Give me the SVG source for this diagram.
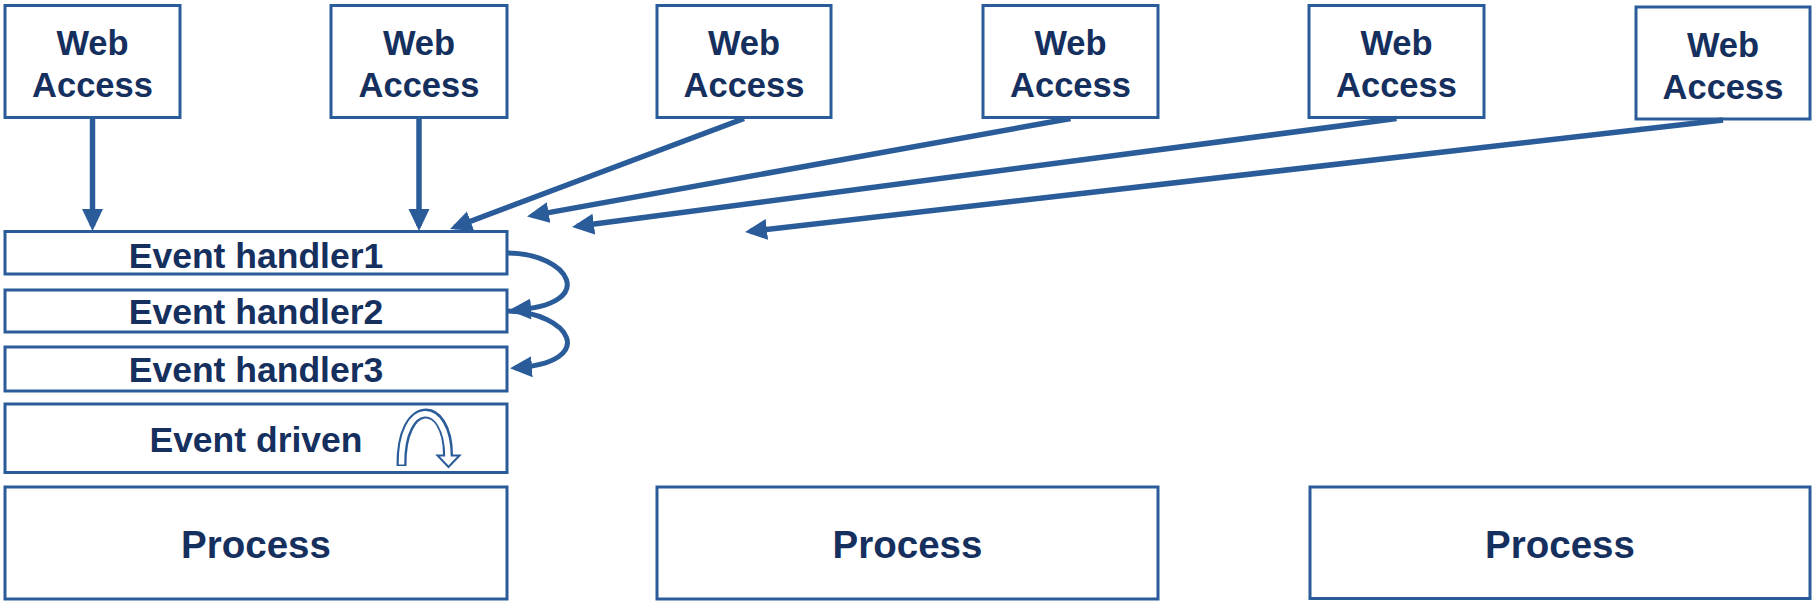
<svg xmlns="http://www.w3.org/2000/svg" width="1816" height="608" viewBox="0 0 1816 608">
<style>
  .box { fill: #ffffff; stroke: #2B5C9A; stroke-width: 3; }
  .lbl { font-family: "Liberation Sans", Arial, sans-serif; font-weight: bold; font-size: 34.5px; fill: #15305E; text-anchor: middle; }
  .eh { font-size: 35.5px; }
  .big { font-size: 38.5px; }
  .conn { fill: none; stroke: #2B5C9A; stroke-width: 5.5; marker-end: url(#ah); }
  .curve { fill: none; stroke: #2B5C9A; stroke-width: 5; marker-end: url(#ah); }
</style>
<defs>
  <marker id="ah" markerUnits="userSpaceOnUse" markerWidth="24" markerHeight="22" refX="17" refY="10.5" orient="auto">
    <path d="M0,0 L22,10.5 L0,21 z" fill="#2B5C9A"/>
  </marker>
</defs>
<rect width="1816" height="608" fill="#ffffff"/>

<g id="web1"><rect class="box" x="5" y="5.5" width="175" height="112"/><text class="lbl" x="92.5" y="55">Web</text><text class="lbl" x="92.5" y="97">Access</text></g>
<g id="web2"><rect class="box" x="331" y="5.5" width="176" height="112"/><text class="lbl" x="419" y="55">Web</text><text class="lbl" x="419" y="97">Access</text></g>
<g id="web3"><rect class="box" x="657" y="5.5" width="174" height="112"/><text class="lbl" x="744" y="55">Web</text><text class="lbl" x="744" y="97">Access</text></g>
<g id="web4"><rect class="box" x="983" y="5.5" width="175" height="112"/><text class="lbl" x="1070.5" y="55">Web</text><text class="lbl" x="1070.5" y="97">Access</text></g>
<g id="web5"><rect class="box" x="1309" y="5.5" width="175" height="112"/><text class="lbl" x="1396.5" y="55">Web</text><text class="lbl" x="1396.5" y="97">Access</text></g>
<g id="web6"><rect class="box" x="1636" y="7" width="174" height="112"/><text class="lbl" x="1723" y="56.5">Web</text><text class="lbl" x="1723" y="98.5">Access</text></g>

<g id="handler1"><rect class="box" x="5" y="231.5" width="502" height="42.5"/><text class="lbl eh" x="256" y="268">Event handler1</text></g>
<g id="handler2"><rect class="box" x="5" y="290" width="502" height="42"/><text class="lbl eh" x="256" y="324">Event handler2</text></g>
<g id="handler3"><rect class="box" x="5" y="347" width="502" height="44"/><text class="lbl eh" x="256" y="382">Event handler3</text></g>
<g id="eventdriven"><rect class="box" x="5" y="404" width="502" height="68.5"/><text class="lbl eh" x="256" y="451.5">Event driven</text>
  <path d="M401.5,466 C400.5,398 448,398 448,455" fill="none" stroke="#2B5C9A" stroke-width="10"/>
  <path d="M437.5,455.5 L459.5,455.5 L448.5,467 z" fill="#ffffff" stroke="#2B5C9A" stroke-width="2" stroke-linejoin="miter"/>
  <path d="M401.5,464.5 C400.5,398 448,398 448,457.5" fill="none" stroke="#ffffff" stroke-width="5.5"/>
</g>

<g id="process1"><rect class="box" x="5" y="487" width="502" height="112"/><text class="lbl big" x="256" y="558">Process</text></g>
<g id="process2"><rect class="box" x="657" y="487" width="501" height="112"/><text class="lbl big" x="907.5" y="558">Process</text></g>
<g id="process3"><rect class="box" x="1310" y="487" width="500" height="111.5"/><text class="lbl big" x="1560" y="558">Process</text></g>

<g id="connectors">
  <line class="conn" x1="92.5" y1="119" x2="92.5" y2="226"/>
  <line class="conn" x1="419" y1="119" x2="419" y2="226"/>
  <line class="conn" x1="744" y1="118.5" x2="454.7" y2="227.2"/>
  <line class="conn" x1="1070.5" y1="118.5" x2="531.9" y2="215.6"/>
  <line class="conn" x1="1396.5" y1="118.5" x2="577" y2="226.3"/>
  <line class="conn" x1="1723" y1="120" x2="750" y2="231.4"/>
  <path class="curve" d="M507,253 C570,253 600,305 514,310"/>
  <path class="curve" d="M507,311 C570,312 600,362 515,368"/>
</g>
</svg>
